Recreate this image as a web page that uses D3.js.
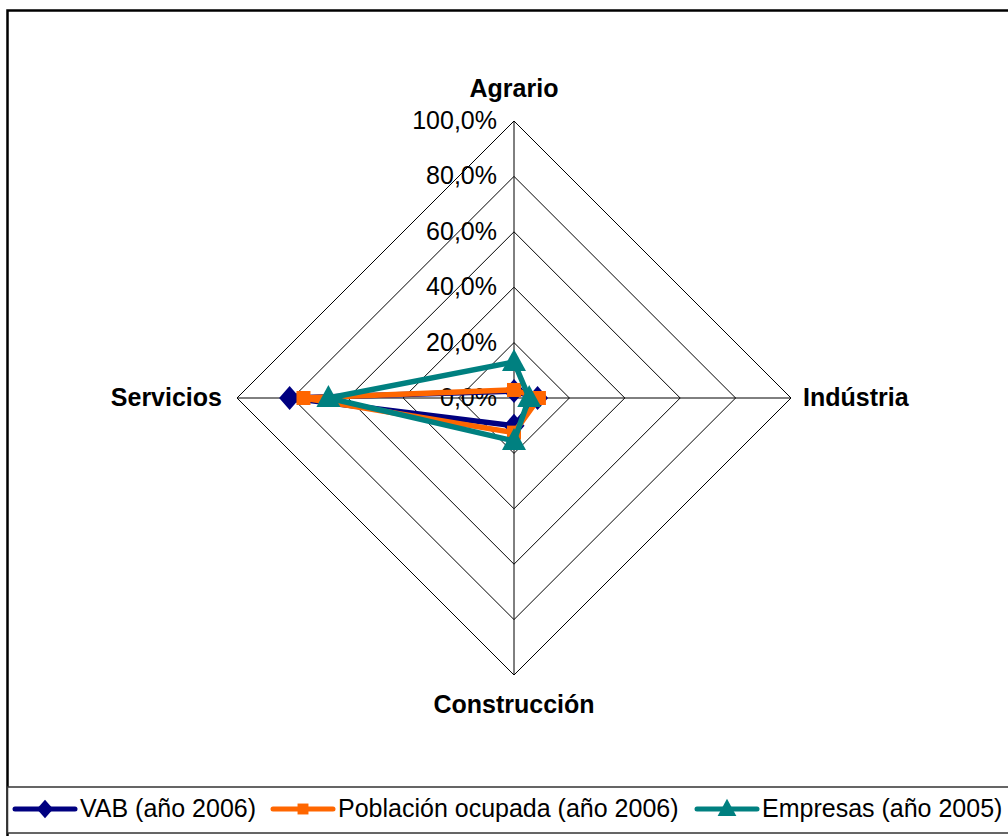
<!DOCTYPE html>
<html>
<head>
<meta charset="utf-8">
<script src="https://cdn.jsdelivr.net/npm/d3@7/dist/d3.min.js"></script>
<style>
  html, body { margin: 0; padding: 0; background: #fff; }
  svg { display: block; font-family: "Liberation Sans", Arial, sans-serif; }
</style>
</head>
<body>
<svg id="chart" width="1008" height="836"></svg>
<script>
const categories = ["Agrario", "Indústria", "Construcción", "Servicios"];
const seriesNames = ["VAB (año 2006)", "Población ocupada (año 2006)", "Empresas (año 2005)"];
const vab = [2.5, 8.5, 10.0, 81.0];
const poblacion = [2.9, 9.0, 12.5, 76.0];
const empresas = [13.0, 5.5, 15.5, 67.0];
const tickValues = [0, 20, 40, 60, 80, 100];
const tickLabels = ["0,0%", "20,0%", "40,0%", "60,0%", "80,0%", "100,0%"];

const colors = ["#000080", "#FF6600", "#008080"];
const markers = ["diamond", "square", "triangle"];
const allSeries = [vab, poblacion, empresas];

const svg = d3.select("#chart");
const cx = 514, cy = 398, R = 277;

const r = d3.scaleLinear().domain([0, 100]).range([0, R]);
const angle = d3.scalePoint().domain(categories).range([0, 2 * Math.PI * 3 / 4]);

// outer frame
svg.append("rect")
  .attr("x", 7.5).attr("y", 10.5).attr("width", 1010).attr("height", 840)
  .attr("fill", "none").attr("stroke", "#000").attr("stroke-width", 2.5);

const g = svg.append("g").attr("transform", `translate(${cx},${cy})`);

// rings
const ringLine = d3.lineRadial()
  .angle(d => angle(d.c))
  .radius(d => r(d.v))
  .curve(d3.curveLinearClosed);

g.selectAll(".ring")
  .data(tickValues.filter(t => t > 0))
  .enter().append("path")
  .attr("class", "ring")
  .attr("d", t => ringLine(categories.map(c => ({c: c, v: t}))))
  .attr("fill", "none").attr("stroke", "#000").attr("stroke-width", 1);

// spokes
g.selectAll(".spoke")
  .data(categories)
  .enter().append("line")
  .attr("x1", 0).attr("y1", 0)
  .attr("x2", c => r(100) * Math.sin(angle(c)))
  .attr("y2", c => -r(100) * Math.cos(angle(c)))
  .attr("stroke", "#000").attr("stroke-width", 1);

// tick labels
g.selectAll(".tick")
  .data(tickValues)
  .enter().append("text")
  .attr("x", -17)
  .attr("y", t => -r(t) + 8)
  .attr("text-anchor", "end")
  .attr("font-size", 25)
  .text((t, i) => tickLabels[i]);

// category labels
const labelPos = {
  "Agrario": {x: 0, y: -r(100) - 24, anchor: "middle"},
  "Indústria": {x: r(100) + 12, y: 8, anchor: "start"},
  "Construcción": {x: 0, y: r(100) + 38, anchor: "middle"},
  "Servicios": {x: -r(100) - 15, y: 8, anchor: "end"}
};
g.selectAll(".cat")
  .data(categories)
  .enter().append("text")
  .attr("x", c => labelPos[c].x)
  .attr("y", c => labelPos[c].y)
  .attr("text-anchor", c => labelPos[c].anchor)
  .attr("font-size", 25).attr("font-weight", "bold")
  .text(c => c);

// marker shapes
function markerPath(type) {
  if (type === "diamond") return "M0,-12L10.5,0L0,12L-10.5,0Z";
  if (type === "square") return "M-7,-7H7V7H-7Z";
  return "M0,-13L12,9H-12Z";
}

const dataLine = d3.lineRadial()
  .angle((d, i) => angle(categories[i]))
  .radius(d => r(d))
  .curve(d3.curveLinearClosed);

allSeries.forEach((vals, si) => {
  const sg = g.append("g");
  sg.append("path")
    .attr("d", dataLine(vals))
    .attr("fill", "none")
    .attr("stroke", colors[si])
    .attr("stroke-width", 5.5)
    .attr("stroke-linejoin", "round");
  sg.selectAll("path.m")
    .data(vals)
    .enter().append("path")
    .attr("class", "m")
    .attr("transform", (d, i) => {
      const a = angle(categories[i]);
      return `translate(${r(d) * Math.sin(a)},${-r(d) * Math.cos(a)})`;
    })
    .attr("d", markerPath(markers[si]))
    .attr("fill", colors[si]);
});

// legend
svg.append("rect")
  .attr("x", 7.5).attr("y", 787).attr("width", 1010).attr("height", 46)
  .attr("fill", "#fff").attr("stroke", "#333").attr("stroke-width", 1.5);

const legendX = [15, 273, 697];
seriesNames.forEach((name, i) => {
  const lg = svg.append("g").attr("transform", `translate(${legendX[i]},809)`);
  lg.append("line")
    .attr("x1", 0).attr("x2", 60).attr("y1", 0).attr("y2", 0)
    .attr("stroke", colors[i]).attr("stroke-width", 5)
    .attr("stroke-linecap", "round");
  lg.append("path")
    .attr("transform", "translate(30,0) scale(0.78)")
    .attr("d", markerPath(markers[i]))
    .attr("fill", colors[i]);
  lg.append("text")
    .attr("x", 65).attr("y", 8)
    .attr("font-size", 25)
    .text(name);
});
</script>
</body>
</html>
